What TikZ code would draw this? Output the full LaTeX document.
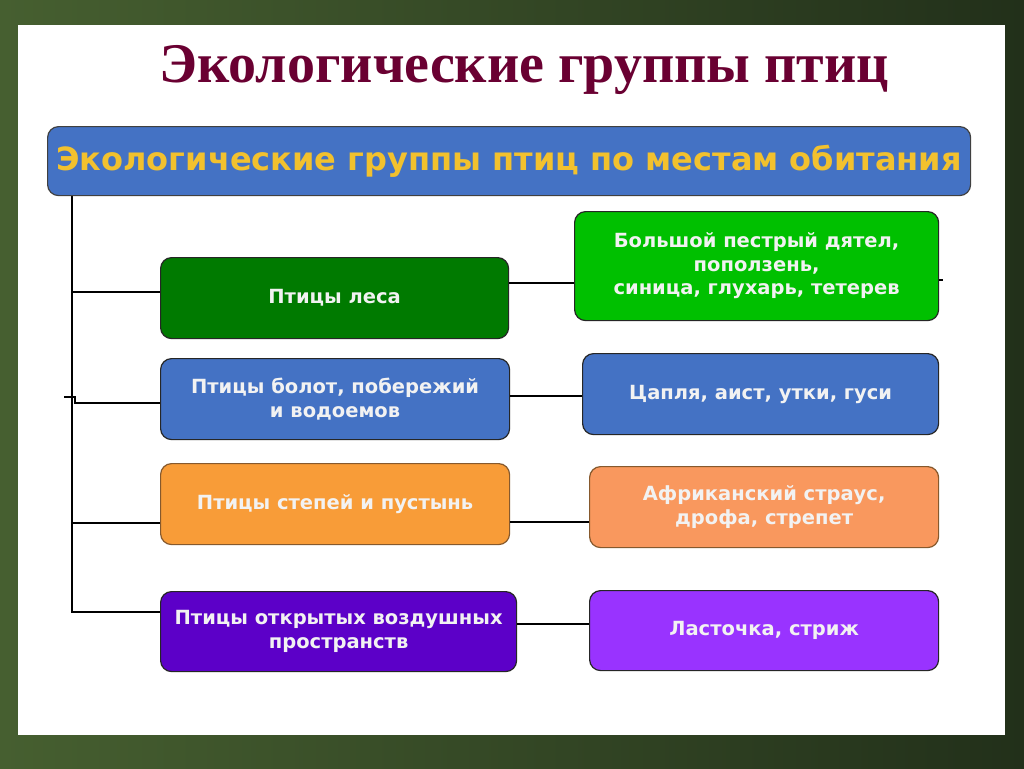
\documentclass[tikz,border=0pt]{standalone}
\usepackage{fontspec}
\setmainfont{DejaVu Sans}
\newfontfamily\titlefont{Liberation Serif}
\usetikzlibrary{calc}
\definecolor{bgdark}{HTML}{22301A}
\definecolor{bglight}{HTML}{465F30}
\definecolor{titlered}{HTML}{6A0032}
\definecolor{hdrblue}{HTML}{4472C4}
\definecolor{hdryellow}{HTML}{F2C12E}
\definecolor{forestdark}{HTML}{007A00}
\definecolor{forestlight}{HTML}{00C000}
\definecolor{steppe}{HTML}{F89C38}
\definecolor{steppelight}{HTML}{F9985E}
\definecolor{airdark}{HTML}{5C00C8}
\definecolor{airlight}{HTML}{9933FF}
\tikzset{
	groupbox/.style={draw=black!85,line width=1.2pt,rounded corners=11pt,align=center,text=white!95!black,
		font=\bfseries\fontsize{19.5}{23.5}\selectfont,anchor=north west,inner sep=0pt},
	link/.style={line width=2.4pt,black}
}
\begin{document}
\begin{tikzpicture}[x=1pt,y=-1pt]
	\useasboundingbox (0,0) rectangle (1024,768);
	% background and slide
	\shade[left color=bglight,right color=bgdark] (0,0) rectangle (1024,768);
	\fill[white] (18,25) rectangle (1005,735);
	\node[font=\titlefont\bfseries\fontsize{56}{60}\selectfont,text=titlered] (title) at (524,70) {Экологические группы птиц};
	% connectors
	\coordinate (trunk) at (72,612);
	\draw[link] (72,195) -- (trunk) -- (160,612);
	\draw[link] (72,292) -- (160,292);
	\draw[link] (64,397) -- (75,397) -- (75,403) -- (160,403);
	\draw[link] (72,523) -- (160,523);
	% header
	\node[draw=black!75,line width=1.2pt,fill=hdrblue,rounded corners=11pt,anchor=north west,minimum width=923pt,minimum height=69pt,
		text=hdryellow,font=\bfseries\fontsize{32}{34}\selectfont] (hdr) at (47,126) {Экологические группы птиц по местам обитания};
	% left column
	\node[groupbox,fill=forestdark,minimum width=348pt,minimum height=81pt] (b1) at (160,257) {Птицы леса};
	\node[groupbox,fill=hdrblue,minimum width=349pt,minimum height=81pt] (b2) at (160,358) {Птицы болот, побережий\\и водоемов};
	\node[groupbox,fill=steppe,draw=brown!70!black,minimum width=349pt,minimum height=81pt] (b3) at (160,463) {Птицы степей и пустынь};
	\node[groupbox,fill=airdark,minimum width=356pt,minimum height=80pt] (b4) at (160,591) {Птицы открытых воздушных\\пространств};
	% right column
	\node[groupbox,fill=forestlight,minimum width=364pt,minimum height=109pt] (r1) at (574,211) {Большой пестрый дятел,\\поползень,\\синица, глухарь, тетерев};
	\node[groupbox,fill=hdrblue,minimum width=356pt,minimum height=81pt] (r2) at (582,353) {Цапля, аист, утки, гуси};
	\node[groupbox,fill=steppelight,draw=brown!70!black,minimum width=349pt,minimum height=81pt] (r3) at (589,466) {Африканский страус,\\дрофа, стрепет};
	\node[groupbox,fill=airlight,minimum width=349pt,minimum height=80pt] (r4) at (589,590) {Ласточка, стриж};
	% links between the columns
	\draw[link] (b1.east |- 0,283) -- (r1.west |- 0,283);
	\draw[link] (b2.east |- 0,396) -- (r2.west |- 0,396);
	\draw[link] (b3.east |- 0,522) -- (r3.west |- 0,522);
	\draw[link] (b4.east |- 0,624) -- (r4.west |- 0,624);
	\draw[link] (r1.east |- 0,280) -- ++(4,0);
\end{tikzpicture}
\end{document}
